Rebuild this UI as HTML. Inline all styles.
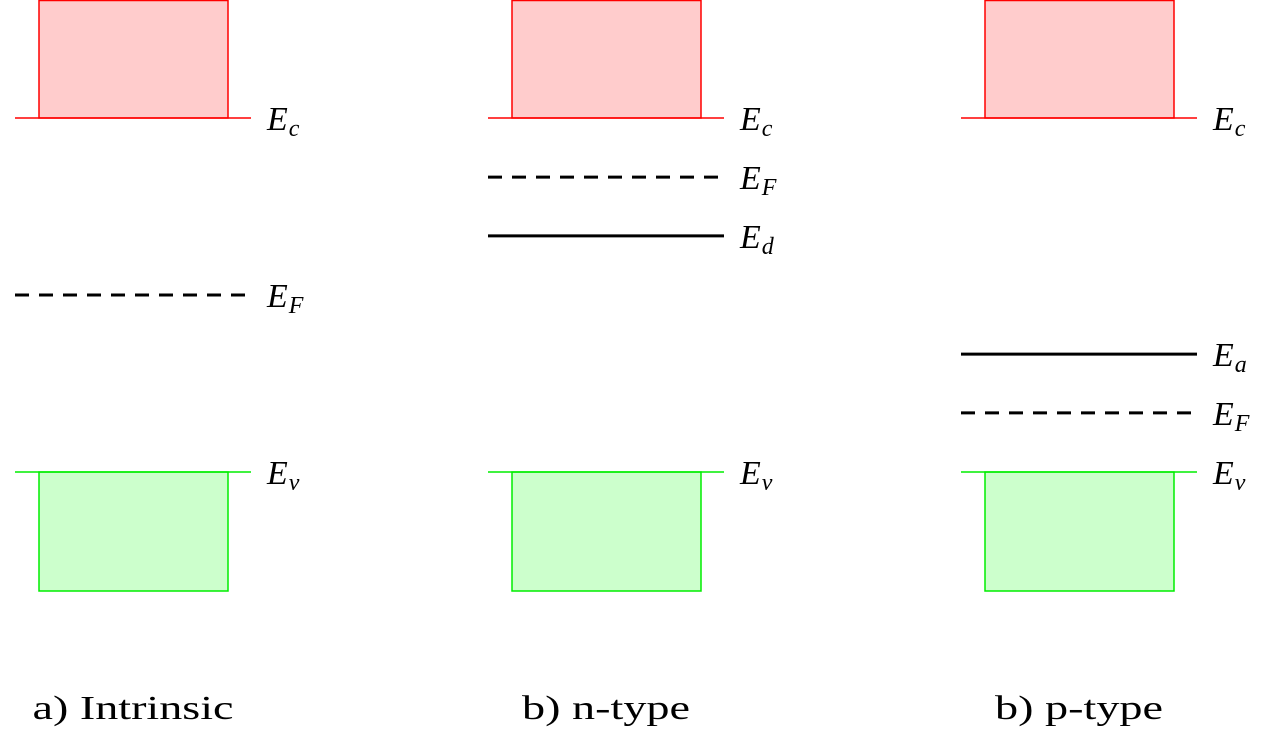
<!DOCTYPE html>
<html><head><meta charset="utf-8"><style>
html,body{margin:0;padding:0;background:#fff;width:1283px;height:744px;overflow:hidden}
svg text{font-family:"Liberation Serif",serif}
</style></head><body>
<svg id="chart" width="1283" height="744" viewBox="0 0 1283 744" xmlns="http://www.w3.org/2000/svg"></svg>
<script>
// Energy scale: 0 = Ev, 1 = Ec
const panelNames = ["intrinsic", "n-type", "p-type"];
const captions = ["a) Intrinsic", "b) n-type", "b) p-type"];
const captionWidths = [201, 168, 168];
const fermiLevels = [0.5, 0.833, 0.167];
const dopantLevels = [null, 0.667, 0.333];
const dopantSubs = [null, "d", "a"];

const svg = document.getElementById('chart');
const NS = "http://www.w3.org/2000/svg";
const yEc = 118, yEv = 472;
function yScale(e){ return yEv + (yEc - yEv) * e; }
function mk(tag, attrs, parent){
  const el = document.createElementNS(NS, tag);
  for (const k in attrs) el.setAttribute(k, attrs[k]);
  (parent || svg).appendChild(el);
  return el;
}
function label(g, x, y, sub){
  const t = mk('text', {x: x, y: y + 12, 'font-size': 34, 'font-style': 'italic', fill: '#000'}, g);
  
  
  t.appendChild(document.createTextNode('E'));
  const s = mk('tspan', {'font-size': 24, dy: 6, dx: 1}, t);
  s.textContent = sub;
}
panelNames.forEach((name, i) => {
  const ox = 15 + i * 473;
  const g = mk('g', {});
  
  
  const cb = mk('rect', {x: ox + 24, y: 0.5, width: 189, height: yEc - 0.5, fill: '#ffcccc', stroke: '#ff0000', 'stroke-width': 1.5}, g);
  
  
  const ec = mk('line', {x1: ox, x2: ox + 236, y1: yEc, y2: yEc, stroke: '#ff0000', 'stroke-width': 1.5}, g);
  
  
  label(g, ox + 252, yEc, 'c');
  const vb = mk('rect', {x: ox + 24, y: yEv, width: 189, height: 119, fill: '#ccffcc', stroke: '#00ee00', 'stroke-width': 1.5}, g);
  
  
  const ev = mk('line', {x1: ox, x2: ox + 236, y1: yEv, y2: yEv, stroke: '#00ee00', 'stroke-width': 1.5}, g);
  
  
  label(g, ox + 252, yEv, 'v');
  const yf = yScale(fermiLevels[i]);
  const ef = mk('line', {x1: ox, x2: ox + 236, y1: yf, y2: yf, stroke: '#000', 'stroke-width': 3, 'stroke-dasharray': '14 10'}, g);
  
  
  label(g, ox + 252, yf, 'F');
  if (dopantLevels[i] !== null){
    const yd = yScale(dopantLevels[i]);
    const dl = mk('line', {x1: ox, x2: ox + 236, y1: yd, y2: yd, stroke: '#000', 'stroke-width': 3}, g);
    
    
    label(g, ox + 252, yd, dopantSubs[i]);
  }
  const cap = mk('text', {x: ox + 118 - captionWidths[i] / 2, y: 719, 'font-size': 34, textLength: captionWidths[i], lengthAdjust: 'spacingAndGlyphs', fill: '#000'}, g);
  
  
  cap.textContent = captions[i];
});
</script>
</body></html>
